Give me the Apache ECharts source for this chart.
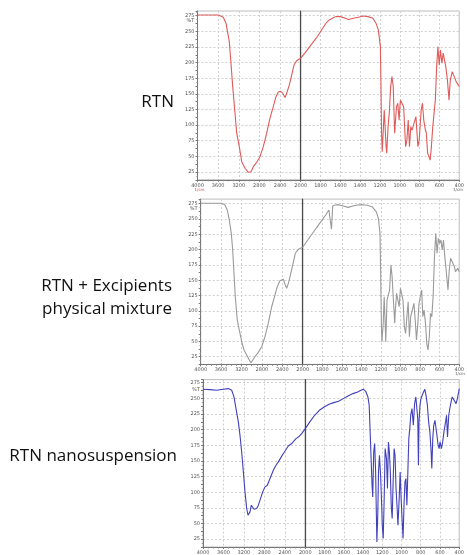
<!DOCTYPE html>
<html><head><meta charset="utf-8">
<script src="https://cdn.jsdelivr.net/npm/echarts@6/dist/echarts.min.js"></script>
<style>html,body{margin:0;padding:0;background:#fff}#c{width:467px;height:555px}</style>
</head><body><div id="c"></div>
<script>
// ---- data (wavenumber in 1/cm, transmittance %T) ----
const panelNames = ['RTN', 'RTN + Excipients\nphysical mixture', 'RTN nanosuspension'];
const leftRange = [2000, 4000];   // 4000 -> 2000, step 400
const rightRange = [400, 2000];   // 2000 -> 400, step 200
const leftStep = 400, rightStep = 200, yStep = 25;

const rtnWavenumber = [4000,3597,3500,3448,3384,3351,3318,3273,3240,3190,3143,3079,3015,2963,2918,2853,2789,2725,2659,2595,2531,2479,2434,2388,2349,2304,2272,2221,2175,2130,2078,2000,1958,1909,1843,1778,1745,1713,1680,1647,1598,1549,1517,1468,1419,1370,1321,1272,1240,1216,1196,1190,1184,1177,1171,1157,1147,1138,1132,1118,1105,1092,1079,1066,1052,1039,1033,1020,1007,994,981,961,941,928,915,902,889,876,856,837,817,804,784,771,758,745,732,719,706,693,681,667,654,641,628,615,602,589,575,562,549,536,519,503,490,470,451,431,411,400];
const rtnTransmittance = [276,276,272.5,263,233.5,199,161.5,119,87,65.5,41.5,31,24.5,25.5,33.5,40.5,49.5,65.5,87,111,129.5,145.5,153,154,151,144,151,164,180,196,203,207,215,225.5,239,255,263,268,271,273.5,273.5,271,269,271,272.5,274.5,273.5,271,263,252,225.5,167,87,57.5,55,124,124,65.5,55,97.5,121.5,161.5,177.5,161.5,87,87,129.5,135,108,140,143,129.5,65.5,76,108,65.5,97.5,92,103,113.5,65.5,76,124,135,108,95,87,55,49.5,44,65.5,97.5,119,140,193.5,225.5,196,220,199,215,217.5,193.5,172,140,172,185.5,183,169.5,172,162];

const mixWavenumber = [4000,3588,3524,3479,3439,3400,3373,3347,3322,3283,3243,3196,3151,3098,3047,3014,2981,2936,2871,2804,2740,2675,2608,2544,2499,2446,2380,2341,2314,2281,2249,2196,2145,2086,2000,1961,1912,1863,1814,1765,1732,1716,1706,1700,1693,1667,1634,1585,1536,1487,1438,1389,1340,1291,1249,1226,1210,1203,1196,1190,1177,1167,1157,1151,1138,1125,1112,1098,1086,1073,1059,1053,1040,1027,1014,1001,988,975,961,948,935,922,909,896,882,863,850,837,823,811,798,784,772,759,745,732,719,706,693,680,666,653,640,626,613,600,587,574,561,547,534,515,502,488,468,449,439,416,400];
const mixTransmittance = [275.7,275.7,272.9,264.7,248.4,226.6,199.4,161.3,123,85,68.6,49.5,36,27.8,19.6,15.2,16.8,25,32.1,41.3,57.7,79.6,106.7,125.8,139.4,149.2,151.5,142.2,136.8,144.9,155.7,174.8,194,200.5,203.8,212.9,223.9,234.8,245.6,256.5,264.7,267.5,233.2,251.1,271.2,272.9,273.4,271.2,269,271.2,272.9,273.4,272.4,270.1,262,251.1,226.6,161.3,79.6,49.5,79.6,123,79.6,49.5,117.6,120.4,134,174.8,155.7,117.6,79.6,101.2,128.6,117.6,106.7,136.8,134,117.6,74,63.2,90.4,114.9,57.7,90.4,93.1,112.2,85,52.3,79.6,112.2,123,134,90.4,101.2,79.6,46.9,36,57.7,95.9,90.4,125.8,188.4,226.6,194,218.5,210.3,215.7,199.4,215.7,188.4,166.7,134,166.7,185.8,183,172.1,163.9,169.4,163.9];

const nanoWavenumber = [4000,3863,3733,3602,3504,3439,3394,3355,3309,3277,3244,3211,3179,3146,3120,3101,3081,3055,3029,3003,2977,2951,2918,2885,2833,2788,2742,2690,2625,2573,2527,2481,2429,2364,2332,2299,2266,2234,2182,2156,2116,2071,2000,1953,1903,1854,1804,1754,1704,1654,1605,1555,1505,1455,1422,1395,1372,1349,1336,1326,1316,1306,1299,1289,1279,1269,1263,1256,1246,1239,1229,1216,1206,1200,1190,1180,1170,1156,1146,1136,1126,1116,1107,1097,1087,1077,1067,1057,1047,1037,1024,1014,1004,991,984,974,964,954,944,934,924,914,904,891,877,864,851,841,831,824,818,808,798,785,771,758,745,731,718,705,692,685,675,665,652,642,632,619,609,599,585,572,559,542,532,522,509,492,473,453,433,419,406,400];
const nanoTransmittance = [264.5,264,262.9,264.5,265.6,262.9,252.3,233.6,212.4,191.1,164.4,132.5,100.6,74,63.3,60.6,68.6,79.3,76.6,72.9,71.3,74,79.3,87.3,100.6,108.6,111.2,121.9,135.2,143.2,148.5,154.9,161.8,169.8,174,172.4,177.8,180.4,185.7,183.1,189.5,193.7,201.7,212.4,223,231,236.3,240.6,243.2,245.4,249.6,253.9,257.6,260.3,262.9,264.5,261.3,252.3,239,196.4,153.8,111.2,92.6,164.4,177.8,132.5,79.3,20.7,68.6,132.5,159.1,121.9,79.3,47.3,26,89.9,169.8,153.8,105.9,180.4,164.4,132.5,79.3,58,116.5,169.8,159.1,105.9,79.3,47.3,89.9,132.5,89.9,47.3,26,79.3,116.5,121.9,79.3,132.5,185.7,201.7,223,233.6,207,241.6,252.3,254.9,217.7,143.2,212.4,239,249.6,254.9,260.3,264.5,254.9,239,212.4,196.4,164.4,137.8,185.7,207,215,212.4,191.1,175.1,169.8,180.4,169.8,180.4,196.4,212.4,223,188.4,223,239,252.3,247,241.6,249.6,260.3,265.6];

// ---- layout ----
const panels = [
  {wn: rtnWavenumber, t: rtnTransmittance, color: '#e05a5a', l: 197.5, m: 300.7, r: 464, top: 11, bottom: 179.8, ymax: 282.5,
   label: {x: 174, y: 102}, unitL: true},
  {wn: mixWavenumber, t: mixTransmittance, color: '#9a9a9a', l: 200.7, m: 302.7, r: 466, top: 199.1, bottom: 364.4, ymax: 282.5,
   label: {x: 172, y: 298}, unitL: false},
  {wn: nanoWavenumber, t: nanoTransmittance, color: '#4040bb', l: 203, m: 305.3, r: 466, top: 379.6, bottom: 547.1, ymax: 280,
   label: {x: 177, y: 456}, unitL: false}
];
const yMin = 12.5;

const grids = [], xAxes = [], yAxes = [], series = [], graphics = [];
const gridLineColor = '#cfcfcf';
const plain = v => String(v);

panels.forEach((p, i) => {
  const h = p.bottom - p.top;
  grids.push({left: p.l, top: p.top, width: p.m - p.l, height: h, show: true, borderColor: '#bdbdbd', borderWidth: 1});
  grids.push({left: p.m, top: p.top, width: p.r - p.m, height: h, show: true, borderColor: '#bdbdbd', borderWidth: 1});
  const xCommon = {
    type: 'value', inverse: true,
    axisLine: {show: true, lineStyle: {color: '#777', width: 1}},
    axisTick: {show: true, length: 2, lineStyle: {color: '#777'}},
    minorTick: {show: true, splitNumber: 4, length: 1.5, lineStyle: {color: '#888'}},
    axisLabel: {fontSize: 5, color: '#555', margin: 3, fontFamily: 'DejaVu Sans', formatter: plain},
    splitLine: {show: true, lineStyle: {color: gridLineColor, type: [2, 2], width: 1}}
  };
  xAxes.push(Object.assign({}, xCommon, {gridIndex: 2*i, min: leftRange[0], max: leftRange[1], interval: leftStep,
    axisLabel: Object.assign({}, xCommon.axisLabel, {showMinLabel: false})}));
  xAxes.push(Object.assign({}, xCommon, {gridIndex: 2*i+1, min: rightRange[0], max: rightRange[1], interval: rightStep}));
  const yCommon = {
    type: 'value', min: yMin, max: p.ymax, interval: yStep / 2,
    splitLine: {show: true, lineStyle: {color: ['rgba(0,0,0,0)', gridLineColor], type: [2, 2], width: 1}}
  };
  yAxes.push(Object.assign({}, yCommon, {gridIndex: 2*i,
    axisLine: {show: true, lineStyle: {color: '#777'}},
    axisTick: {show: true, length: 2, lineStyle: {color: '#777'}},
    minorTick: {show: true, splitNumber: 2, length: 1.2, lineStyle: {color: '#999'}},
    axisLabel: {fontSize: 5, color: '#555', margin: 3, fontFamily: 'DejaVu Sans',
      formatter: v => (Math.abs(v % yStep) < 1e-6 ? String(v) : '')}}));
  yAxes.push(Object.assign({}, yCommon, {gridIndex: 2*i+1,
    axisLine: {show: true, lineStyle: {color: '#4a4a4a', width: 1.2}},
    axisTick: {show: false}, axisLabel: {show: false}}));

  const left = [], right = [];
  p.wn.forEach((w, k) => {
    if (w >= 2000) left.push([w, p.t[k]]);
    if (w <= 2000) right.push([w, p.t[k]]);
  });
  [left, right].forEach((d, j) => series.push({
    type: 'line', xAxisIndex: 2*i+j, yAxisIndex: 2*i+j, data: d, showSymbol: false,
    lineStyle: {color: p.color, width: 1.1}, itemStyle: {color: p.color}, animation: false, silent: true
  }));

  graphics.push({type: 'text', x: p.label.x, y: p.label.y,
    style: {text: panelNames[i], font: '17px "Open Sans"', fill: '#111', textAlign: 'right', textVerticalAlign: 'middle', lineHeight: 23}});
  graphics.push({type: 'text', x: p.l - 7, y: p.top + 10, style: {text: '%T', font: '5px "DejaVu Sans"', fill: '#555', textAlign: 'center', textVerticalAlign: 'middle'}});
  graphics.push({type: 'text', x: p.r - 6, y: p.bottom + 10, style: {text: '1/cm', font: '4px "DejaVu Sans"', fill: '#555', textAlign: 'center', textVerticalAlign: 'middle'}});
  if (p.unitL) graphics.push({type: 'text', x: p.l + 2, y: p.bottom + 10, style: {text: '1/cm', font: '4px "DejaVu Sans"', fill: '#d04040', textAlign: 'center', textVerticalAlign: 'middle'}});
});

const chart = echarts.init(document.getElementById('c'), null, {renderer: 'canvas'});
chart.setOption({
  animation: false,
  backgroundColor: '#fff',
  grid: grids, xAxis: xAxes, yAxis: yAxes, series: series,
  graphic: {elements: graphics}
});
</script></body></html>
